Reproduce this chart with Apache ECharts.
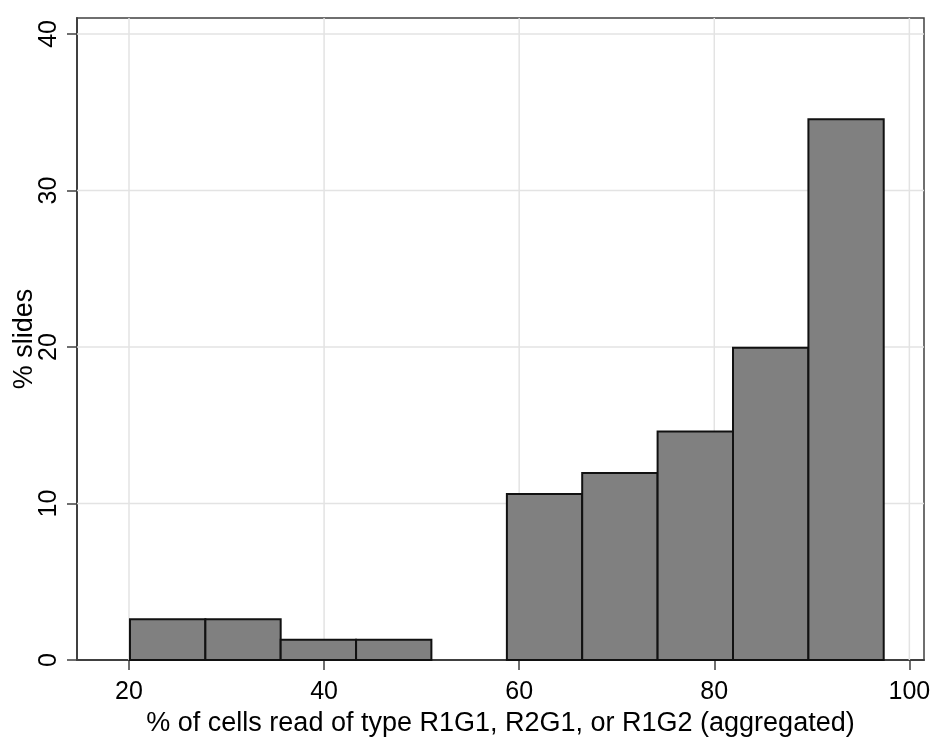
<!DOCTYPE html>
<html>
<head>
<meta charset="utf-8">
<script src="https://cdn.jsdelivr.net/npm/echarts@6/dist/echarts.min.js"></script>
<style>html,body{margin:0;padding:0;background:#fff;}#c{width:941px;height:749px;}</style>
</head>
<body>
<div id="c"></div>
<script>
// Histogram bin edges (x, % of cells) and bar heights (% slides)
const binStarts = [20.1, 27.83, 35.55, 43.28, 51.0, 58.74, 66.46, 74.19, 81.92, 89.65];
const binEnds   = [27.83, 35.55, 43.28, 51.0, 58.74, 66.46, 74.19, 81.92, 89.65, 97.37];
const heights   = [2.6, 2.6, 1.3, 1.3, 0, 10.6, 11.95, 14.6, 19.95, 34.55];
const xTicks = [20, 40, 60, 80, 100];
const yTicks = [0, 10, 20, 30, 40];
const xTitle = '% of cells read of type R1G1, R2G1, or R1G2 (aggregated)';
const yTitle = '% slides';

const barData = binStarts.map((s, i) => [s, binEnds[i], heights[i]]);
const gridData = xTicks.map(v => ['x', v]).concat(yTicks.filter(v => v > 0).map(v => ['y', v]));
const font = 'Liberation Sans, Arial, sans-serif';

const chart = echarts.init(document.getElementById('c'));
chart.setOption({
  animation: false,
  backgroundColor: '#fff',
  grid: {left: 77, top: 18, right: 17, bottom: 89, show: true, borderColor: '#404040', borderWidth: 1.5, containLabel: false, outerBoundsMode: 'none'},
  xAxis: {
    type: 'value', min: 14.67, max: 101.5,
    axisLine: {show: true, onZero: false, lineStyle: {color: '#404040', width: 2}},
    axisTick: {show: true, customValues: xTicks, length: 10, lineStyle: {color: '#404040', width: 1.5}},
    axisLabel: {customValues: xTicks, fontSize: 25, fontFamily: font, color: '#000', margin: 20},
    splitLine: {show: false},
    name: xTitle, nameLocation: 'middle', nameGap: 45,
    nameTextStyle: {fontSize: 27, fontFamily: font, color: '#000'}
  },
  yAxis: {
    type: 'value', min: 0, max: 41.02,
    axisLine: {show: true, lineStyle: {color: '#404040', width: 2}},
    axisTick: {show: true, customValues: yTicks, length: 10, lineStyle: {color: '#404040', width: 1.5}},
    axisLabel: {customValues: yTicks, fontSize: 25, fontFamily: font, color: '#000', margin: 15, rotate: 90},
    splitLine: {show: false},
    name: yTitle, nameLocation: 'middle', nameGap: 39, nameMoveOverlap: false,
    nameTextStyle: {fontSize: 27, fontFamily: font, color: '#000'}
  },
  series: [
    {
      type: 'custom', z: 1, silent: true,
      data: gridData,
      renderItem: function (params, api) {
        const d = gridData[params.dataIndex];
        const cs = params.coordSys;
        let shape;
        if (d[0] === 'x') {
          const px = api.coord([d[1], 0])[0];
          shape = {x1: px, y1: cs.y, x2: px, y2: cs.y + cs.height};
        } else {
          const py = api.coord([0, d[1]])[1];
          shape = {x1: cs.x, y1: py, x2: cs.x + cs.width, y2: py};
        }
        return {type: 'line', shape: shape, style: {stroke: '#e3e3e3', lineWidth: 1.5}};
      }
    },
    {
      type: 'custom', z: 3,
      data: barData,
      encode: {x: [0, 1], y: 2},
      renderItem: function (params, api) {
        const p0 = api.coord([api.value(0), 0]);
        const p1 = api.coord([api.value(1), api.value(2)]);
        if (api.value(2) <= 0) return null;
        return {
          type: 'rect',
          shape: {x: p0[0], y: p1[1], width: p1[0] - p0[0], height: p0[1] - p1[1]},
          style: {fill: '#808080', stroke: '#111', lineWidth: 2}
        };
      }
    }
  ]
});
</script>
</body>
</html>
